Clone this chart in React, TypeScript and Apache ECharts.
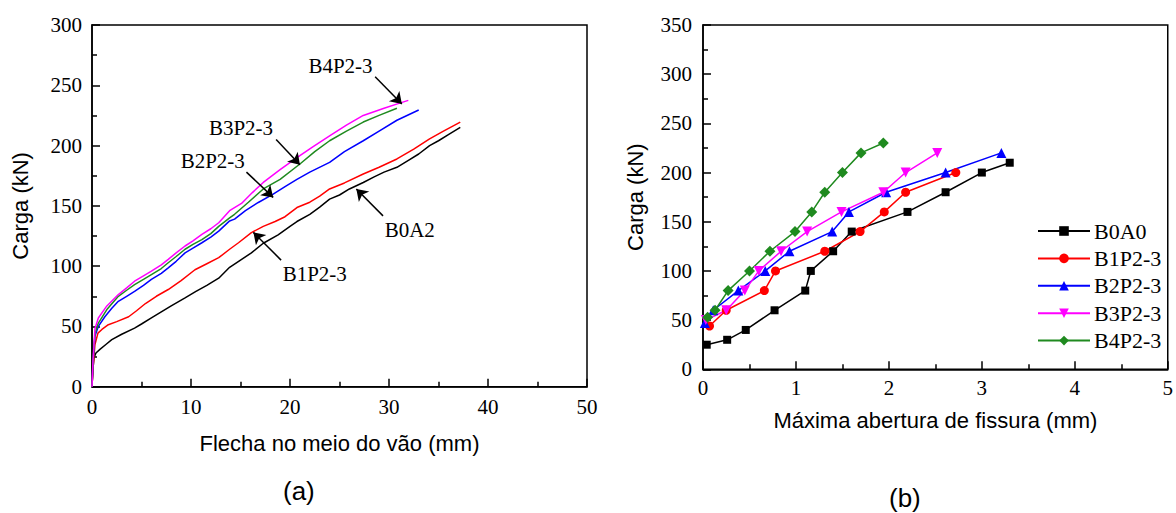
import React, { useEffect, useRef } from 'react';
import * as echarts from 'echarts';

const SERIF = '"Liberation Serif", "Times New Roman", serif';
const SANS = '"Liberation Sans", Arial, sans-serif';

// ---------- (a) load-deflection curves: [deflection mm, load kN] ----------
const curveB0A2: number[][] = [[0,0],[0.1,15],[0.2,24],[0.4,28],[0.8,31],[1.4,35],[2,39],[3,43.5],[4.3,48.6],[5,52],[6,57],[7,62],[8,67],[9.4,73.6],[10.5,79],[11.6,84],[12.8,90],[13.9,99],[15,105],[16.1,111],[17.3,119],[18.8,126],[20,133],[20.7,137],[22,143],[23,149],[24,155.6],[25,159],[26,164],[27.4,169.4],[28.5,174],[29.5,178],[30.8,182],[32,188],[33,193],[34.1,200],[35,204],[36,209],[37.2,215]];
const curveB1P23: number[][] = [[0,0],[0.1,15],[0.3,35],[0.6,44.4],[1,47.5],[1.65,51.4],[2.5,54],[3.7,58],[4.5,63],[5.4,69],[6.5,75],[7.7,80.6],[9,88],[10.4,97],[11.6,102],[12.8,107],[13.9,114],[14.8,119.4],[16.1,127.8],[17.3,133],[18.5,137],[19.5,141],[20.7,148.6],[22,153],[23,158],[24,164],[25.5,169],[27.4,176.4],[29,182],[30.8,188.9],[32.5,197],[34.1,205.6],[35.5,212],[37.2,219.5]];
const curveB2P23: number[][] = [[0,0],[0.1,20],[0.3,42],[0.64,50],[1.3,58],[2,65],[2.66,70.8],[3.5,75],[4.3,79],[5.2,84],[6,89],[7,94],[7.7,98.6],[8.5,104],[9.4,111],[10.2,115],[11.1,119.4],[12,124],[12.8,129],[13.9,137.5],[14.4,139],[15.5,146],[16.8,152.8],[18.3,159.7],[19.5,166],[20.7,172],[22,178],[24,186],[25.5,195],[27.4,204],[29,212],[30.8,221],[33,229.5]];
const curveB3P23: number[][] = [[0,0],[0.1,20],[0.3,44],[0.64,52.8],[1.5,64],[2.66,75],[3.5,80],[4.3,84.7],[5.2,89],[6,93],[7,98],[7.7,102.8],[8.5,108],[9.4,114],[10.2,118],[11.1,122],[12,127],[12.8,133],[13.9,140],[14.4,143],[15.8,153],[17.3,164],[19,172],[21,184.7],[22.5,195],[24,204],[25.7,212],[27.4,219.5],[29,225],[30.8,231]];
const curveB4P23: number[][] = [[0,0],[0.1,22],[0.3,48],[0.64,57],[1.5,67],[2.66,76.4],[3.5,82],[4.3,87.5],[5.2,92],[6,95.8],[7,101],[7.7,105.6],[8.5,111],[9.4,116.7],[10.2,121],[11.1,126.4],[12,131],[12.8,136],[13.9,146],[15.1,152],[16.2,161],[17.3,169.4],[19,180],[20.7,190],[22.3,199],[24,208],[25.7,217],[27.4,225],[29.5,231],[31,235],[31.95,237.5]];

// annotation labels and arrows of (a), in data units
const labelsA = [
  { name: 'B4P2-3', at: [25.1, 265.6] },
  { name: 'B3P2-3', at: [15.05, 214.7] },
  { name: 'B2P2-3', at: [12.2, 187] },
  { name: 'B0A2', at: [32.1, 130] },
  { name: 'B1P2-3', at: [22.5, 93.5] },
];
const arrowsA = [
  [[28.6, 257], [31.3, 234.5]],
  [[18.6, 205], [21.0, 184]],
  [[15.6, 178], [18.3, 157]],
  [[29.4, 141.7], [26.7, 164]],
  [[19.1, 105], [16.3, 128]],
];

// ---------- (b) load vs max crack width ----------
const crackB0A0 = [0.04, 0.26, 0.46, 0.77, 1.1, 1.16, 1.4, 1.6, 2.2, 2.61, 3.0, 3.3];
const loadB0A0 = [25, 30, 40, 60, 80, 100, 120, 140, 160, 180, 200, 210];
const crackB1P23 = [0.07, 0.25, 0.66, 0.78, 1.31, 1.69, 1.95, 2.18, 2.72];
const loadB1P23 = [44, 60, 80, 100, 120, 140, 160, 180, 200];
const crackB2P23 = [0.02, 0.11, 0.38, 0.67, 0.93, 1.39, 1.57, 1.97, 2.61, 3.21];
const loadB2P23 = [47, 60, 80, 100, 120, 140, 160, 180, 200, 220];
const crackB3P23 = [0.03, 0.25, 0.45, 0.6, 0.84, 1.12, 1.49, 1.94, 2.18, 2.52];
const loadB3P23 = [50, 60, 80, 100, 120, 140, 160, 180, 200, 220];
const crackB4P23 = [0.05, 0.13, 0.27, 0.5, 0.72, 0.99, 1.17, 1.31, 1.5, 1.7, 1.94];
const loadB4P23 = [53, 60, 80, 100, 120, 140, 160, 180, 200, 220, 230];

const zip = (xs: number[], ys: number[]) => xs.map((x, i) => [x, ys[i]]);

const axisCommon: any = {
  nameLocation: 'middle',
  axisLine: { show: true, onZero: false, lineStyle: { color: '#000', width: 1.5 } },
  axisTick: { show: true, inside: true, length: 8, lineStyle: { color: '#000', width: 1.5 } },
  minorTick: { show: true, splitNumber: 2, length: 5, lineStyle: { color: '#000', width: 1.5 } },
  splitLine: { show: false },
  minorSplitLine: { show: false },
  axisLabel: { color: '#000', fontFamily: SERIF, fontSize: 21 },
  nameTextStyle: { color: '#000', fontFamily: SANS, fontSize: 22 },
};

const GREEN = '#1f8a1f';

function buildOption(): any {
  const leftLine = (name: string, data: number[][], color: string, extra: any = {}) => ({
    type: 'line', name, xAxisIndex: 0, yAxisIndex: 0, data, showSymbol: false, symbol: 'none',
    lineStyle: { color, width: 1.5 }, itemStyle: { color }, ...extra,
  });
  const rightLine = (name: string, xs: number[], ys: number[], color: string, symbol: string, size: number, rotate = 0) => ({
    type: 'line', name, xAxisIndex: 1, yAxisIndex: 1, data: zip(xs, ys),
    symbol, symbolSize: size, symbolRotate: rotate, showSymbol: true,
    lineStyle: { color, width: 1.5 }, itemStyle: { color },
  });
  return {
    animation: false,
    backgroundColor: '#fff',
    grid: [
      { left: 92, top: 25, width: 495, height: 361.7, show: true, borderColor: '#000', borderWidth: 1.5, containLabel: false },
      { left: 703, top: 25, width: 470, height: 344.3, show: true, borderColor: '#000', borderWidth: 1.5, containLabel: false },
    ],
    xAxis: [
      { ...axisCommon, type: 'value', gridIndex: 0, min: 0, max: 50, interval: 10, name: 'Flecha no meio do vão (mm)', nameGap: 46,
        axisLabel: { ...axisCommon.axisLabel, margin: 10 } },
      { ...axisCommon, type: 'value', gridIndex: 1, min: 0, max: 5, interval: 1, name: 'Máxima abertura de fissura (mm)', nameGap: 40,
        axisLabel: { ...axisCommon.axisLabel, margin: 8 } },
    ],
    yAxis: [
      { ...axisCommon, type: 'value', gridIndex: 0, min: 0, max: 300, interval: 50, name: 'Carga (kN)', nameGap: 61,
        axisLabel: { ...axisCommon.axisLabel, margin: 10 } },
      { ...axisCommon, type: 'value', gridIndex: 1, min: 0, max: 350, interval: 50, name: 'Carga (kN)', nameGap: 57,
        axisLabel: { ...axisCommon.axisLabel, margin: 11 } },
    ],
    legend: {
      show: true, orient: 'vertical', left: 1032, top: 215,
      itemWidth: 52, itemHeight: 12, itemGap: 5.4,
      data: ['B0A0', 'B1P2-3', 'B2P2-3', 'B3P2-3', 'B4P2-3'],
      textStyle: { color: '#000', fontFamily: SERIF, fontSize: 22, padding: [0, 0, 0, -1] },
      selectedMode: false,
    },
    series: [
      leftLine('a-B0A2', curveB0A2, '#000', {
        markLine: {
          silent: true, symbol: ['none', 'arrow'], symbolSize: 11,
          lineStyle: { color: '#000', width: 1.5, type: 'solid' },
          label: { show: false },
          data: arrowsA.map(([p, q]) => [{ coord: p }, { coord: q }]),
        },
        markPoint: {
          silent: true, symbol: 'rect', symbolSize: 1,
          itemStyle: { color: 'rgba(0,0,0,0)' },
          label: { show: true, position: 'inside', color: '#000', fontFamily: SERIF, fontSize: 21, formatter: '{b}' },
          data: labelsA.map((l) => ({ name: l.name, coord: l.at })),
        },
      }),
      leftLine('a-B1P2-3', curveB1P23, '#ff0000'),
      leftLine('a-B2P2-3', curveB2P23, '#0000ff'),
      leftLine('a-B3P2-3', curveB3P23, GREEN),
      leftLine('a-B4P2-3', curveB4P23, '#ff00ff'),
      rightLine('B0A0', crackB0A0, loadB0A0, '#000', 'rect', 8),
      rightLine('B1P2-3', crackB1P23, loadB1P23, '#ff0000', 'circle', 9),
      rightLine('B2P2-3', crackB2P23, loadB2P23, '#0000ff', 'triangle', 10),
      rightLine('B3P2-3', crackB3P23, loadB3P23, '#ff00ff', 'triangle', 10, 180),
      rightLine('B4P2-3', crackB4P23, loadB4P23, GREEN, 'diamond', 11),
    ],
    graphic: [
      { type: 'text', left: 298 - 15, top: 478, style: { text: '(a)', fill: '#000', font: `26px ${SANS}` } },
      { type: 'text', left: 905 - 16, top: 485, style: { text: '(b)', fill: '#000', font: `26px ${SANS}` } },
    ],
  };
}

export default function App() {
  const ref = useRef<HTMLDivElement>(null);
  useEffect(() => {
    if (!ref.current) return;
    const chart = echarts.init(ref.current, null, { renderer: 'svg' });
    chart.setOption(buildOption());
    return () => chart.dispose();
  }, []);
  return <div ref={ref} style={{ position: 'absolute', left: 0, top: 0, width: 1176, height: 513 }} />;
}
